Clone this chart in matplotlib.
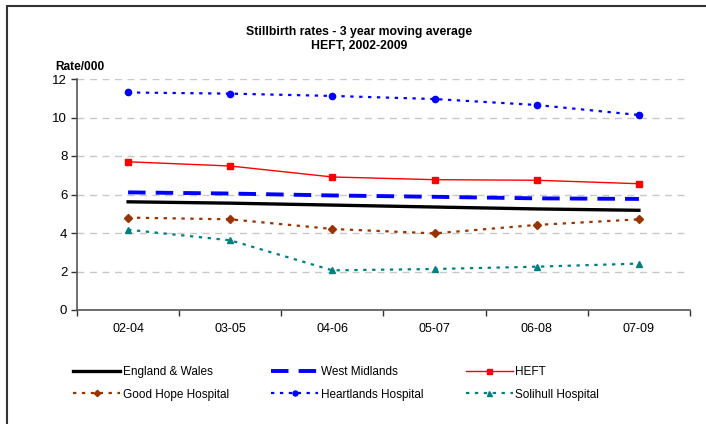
import matplotlib
matplotlib.use("Agg")
import matplotlib.pyplot as plt
from matplotlib.patches import Rectangle
import numpy as np

plt.rcParams['font.family'] = ['Liberation Sans', 'DejaVu Sans']

periods = ["02-04", "03-05", "04-06", "05-07", "06-08", "07-09"]
england_wales = [5.62, 5.55, 5.45, 5.35, 5.25, 5.18]
west_midlands = [6.11, 6.05, 5.95, 5.88, 5.80, 5.77]
heft = [7.70, 7.48, 6.91, 6.77, 6.74, 6.56]
good_hope = [4.80, 4.71, 4.21, 3.98, 4.42, 4.71]
heartlands = [11.30, 11.24, 11.12, 10.96, 10.65, 10.13]
solihull = [4.17, 3.62, 2.06, 2.13, 2.25, 2.41]

W, H = 706, 424
fig = plt.figure(figsize=(W/100, H/100), dpi=100)
ax = fig.add_axes([77/W, 1-310/H, (690-77)/W, (310-79)/H])

x = np.arange(len(periods))
ax.plot(x, england_wales, color='black', lw=2.4, label='England & Wales', zorder=3)
ax.plot(x, west_midlands, color='#0000FF', lw=2.8, dashes=(4.5, 2.6), label='West Midlands', zorder=3)
ax.plot(x, heft, color='#FF0000', lw=1, marker='s', ms=4.5, label='HEFT', zorder=4)
ax.plot(x, good_hope, color='#993300', lw=1.6, ls=(0, (1.5, 2.5)), marker='D', ms=4,
        label='Good Hope Hospital', zorder=4)
ax.plot(x, heartlands, color='#0000FF', lw=1.6, ls=(0, (1.5, 2.5)), marker='o', ms=4.5,
        label='Heartlands Hospital', zorder=4)
ax.plot(x, solihull, color='#008080', lw=1.6, ls=(0, (1.5, 2.5)), marker='^', ms=4.5,
        label='Solihull Hospital', zorder=4)

ax.set_xlim(-0.5, len(periods) - 0.5)
ax.set_ylim(0, 12)
ax.set_yticks(np.arange(0, 13, 2))
ax.set_xticks(np.arange(-0.5, len(periods), 1.0))
ax.set_xticklabels([])
ax.set_xticks(x, minor=True)
ax.set_xticklabels(periods, minor=True)
ax.tick_params(axis='x', which='minor', length=0, pad=9, labelsize=9)
ax.tick_params(axis='x', which='major', length=4, width=1, color='#333333')
ax.tick_params(axis='y', length=4, width=1, color='#333333', labelsize=9.5, pad=3)
for s in ['top', 'right']:
    ax.spines[s].set_visible(False)
for s in ['left', 'bottom']:
    ax.spines[s].set_color('#555555')
    ax.spines[s].set_linewidth(1.2)
ax.yaxis.grid(True, color='#C8C8C8', ls=(0, (5, 4)), lw=1)
ax.set_axisbelow(True)

fig.text(359/W, 1-39/H, "Stillbirth rates - 3 year moving average\nHEFT, 2002-2009",
         ha='center', va='center', fontsize=8.8, fontweight='bold', linespacing=1.3)
fig.text(55/W, 1-67/H, "Rate/000", ha='left', va='center', fontsize=8.6, fontweight='bold')

handles, labels = ax.get_legend_handles_labels()
order = [0, 3, 1, 4, 2, 5]
leg = fig.legend([handles[i] for i in order], [labels[i] for i in order],
                 loc='center left', bbox_to_anchor=(73/W, 1-383.5/H),
                 borderaxespad=0, borderpad=0, markerscale=0.8,
                 ncol=3, frameon=False, fontsize=8.5, handlelength=4.0,
                 handletextpad=0.2, columnspacing=3.6, labelspacing=0.85)

fig.patches.append(Rectangle((7/W, -0.1), 1.2, (424-6)/H + 0.1, transform=fig.transFigure,
                             fill=False, edgecolor='#333333', lw=1.5))

fig.savefig('out.png', dpi=100)
